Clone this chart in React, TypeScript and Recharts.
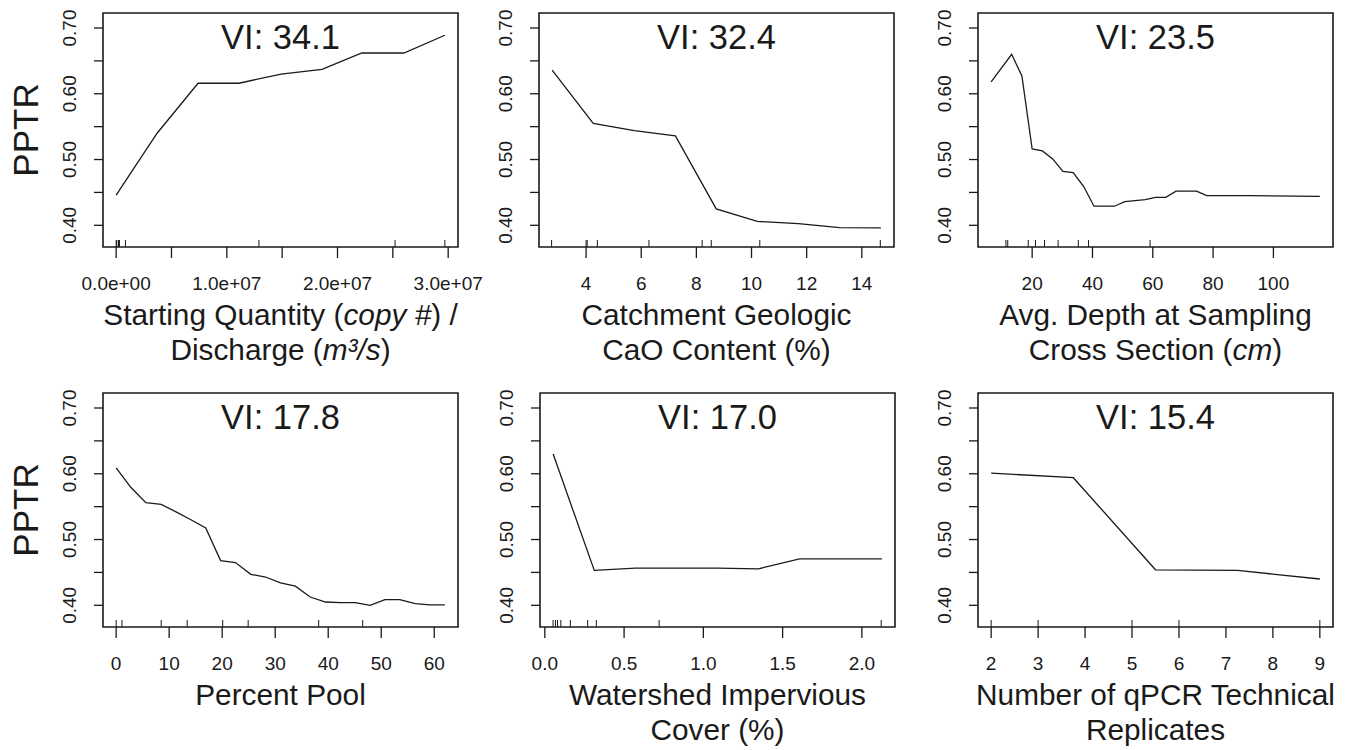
import { ComposedChart, Line, Scatter, XAxis, YAxis, ReferenceArea } from 'recharts';

const FONT = '"Liberation Sans", Arial, Helvetica, sans-serif';
const INK = '#1a1a1a';

// ─── shared y axis (PPTR) ───
const yTicks = [0.4, 0.45, 0.5, 0.55, 0.6, 0.65, 0.7];
const yLabeled = [0.4, 0.5, 0.6, 0.7];
const yDomain = [0.367, 0.7228];

// ─── panel 1: starting quantity / discharge ───
const qtyX = [0, 3.7e6, 7.4e6, 1.11e7, 1.49e7, 1.86e7, 2.22e7, 2.6e7, 2.97e7];
const qtyY = [0.446, 0.54, 0.616, 0.616, 0.63, 0.637, 0.662, 0.662, 0.689];
const qtyRug = [0, 6e4, 2.1e5, 3e5, 8.4e5, 1.29e7, 2.52e7, 2.97e7];
const qtyTicks = [0, 5e6, 1e7, 1.5e7, 2e7, 2.5e7, 3e7];
const qtyLabeled = [0, 1e7, 2e7, 3e7];

// ─── panel 2: CaO ───
const caoX = [2.77, 4.26, 5.75, 7.24, 8.72, 10.21, 11.7, 13.19, 14.69];
const caoY = [0.636, 0.555, 0.544, 0.536, 0.425, 0.406, 0.4025, 0.3965, 0.396];
const caoRug = [2.75, 4.0, 4.04, 4.41, 6.28, 8.21, 8.54, 10.3, 14.67];
const caoTicks = [4, 6, 8, 10, 12, 14];

// ─── panel 3: depth ───
const depthX = [6.4, 13.2, 16.6, 20.0, 23.4, 26.8, 30.2, 33.6, 37.1, 40.5, 43.9, 47.3, 50.7, 54.1, 57.5, 60.9, 64.3, 67.7, 71.1, 74.5, 77.9, 91.5, 115.4];
const depthY = [0.618, 0.66, 0.627, 0.516, 0.513, 0.501, 0.482, 0.48, 0.459, 0.429, 0.429, 0.429, 0.436, 0.4375, 0.439, 0.4425, 0.4425, 0.452, 0.452, 0.452, 0.445, 0.445, 0.444];
const depthRug = [11.3, 11.9, 18.7, 21.1, 24.1, 28.6, 35.3, 38.7, 59.1];
const depthTicks = [20, 40, 60, 80, 100];

// ─── panel 4: percent pool ───
const poolX = [0, 2.8, 5.6, 8.5, 11.3, 14.1, 16.9, 19.7, 22.5, 25.4, 28.2, 31.0, 33.8, 36.6, 39.5, 42.3, 45.1, 47.9, 50.7, 53.5, 56.4, 59.2, 62.0];
const poolY = [0.609, 0.579, 0.556, 0.5535, 0.542, 0.53, 0.5175, 0.468, 0.465, 0.447, 0.443, 0.434, 0.429, 0.4126, 0.405, 0.404, 0.404, 0.4, 0.4086, 0.4086, 0.4025, 0.4005, 0.4005];
const poolRug = [0, 1.1, 8.5, 13.4, 20.1, 24.9, 38.2, 46.5];
const poolTicks = [0, 10, 20, 30, 40, 50, 60];

// ─── panel 5: impervious cover ───
const imperviousX = [0.0525, 0.312, 0.571, 0.83, 1.089, 1.348, 1.607, 1.867, 2.126];
const imperviousY = [0.63, 0.453, 0.4565, 0.4565, 0.4565, 0.4555, 0.4706, 0.4706, 0.4706];
const imperviousRug = [0.052, 0.067, 0.08, 0.101, 0.161, 0.27, 0.325, 0.721, 2.122];
const imperviousTicks = [0, 0.5, 1, 1.5, 2];

// ─── panel 6: qPCR replicates ───
const repX = [2, 3.75, 5.5, 7.25, 9];
const repY = [0.601, 0.594, 0.454, 0.453, 0.44];
const repRug = [2, 3, 5, 6, 9];
const repTicks = [2, 3, 4, 5, 6, 7, 8, 9];

const sci = (v: number) => {
  const [m, e] = v.toExponential(1).split('e');
  return `${m}e${e[0]}${e.slice(1).padStart(2, '0')}`;
};

const has = (list: number[], v: number) =>
  list.some((t) => Math.abs(t - v) <= 1e-9 * Math.max(1, Math.abs(t)));

const XTick = ({ x, y, payload, labeled, fmt }: any) => {
  if (labeled && !has(labeled, payload.value)) return <g />;
  return (
    <text x={x} y={y + 32} textAnchor="middle" fontSize={19} fontFamily={FONT} fill={INK}>
      {fmt(payload.value)}
    </text>
  );
};

const YTick = ({ x, y, payload }: any) => {
  if (!has(yLabeled, payload.value)) return <g />;
  const bx = x - 18.3;
  return (
    <text
      x={bx}
      y={y}
      transform={`rotate(-90 ${bx} ${y})`}
      textAnchor="middle"
      fontSize={19}
      fontFamily={FONT}
      fill={INK}
    >
      {payload.value.toFixed(2)}
    </text>
  );
};

const RugMark = (p: any) => (
  <line x1={p.cx} x2={p.cx} y1={p.cy} y2={p.cy - 7} stroke={INK} strokeWidth={1} />
);

type Seg = { t: string; i?: boolean };

const PanelText = ({ viewBox, title, xLabel, showY }: any) => {
  const vb = viewBox && viewBox.width ? viewBox : { x: 103, y: 13, width: 355, height: 234 };
  const cx = vb.x + vb.width / 2;
  const bottom = vb.y + vb.height;
  const my = vb.y + vb.height / 2;
  return (
    <g>
      <text x={cx} y={vb.y + 36} textAnchor="middle" fontSize={34.5} fontFamily={FONT} fill={INK}>
        {title}
      </text>
      {xLabel.map((line: Seg[], i: number) => (
        <text
          key={i}
          x={cx}
          y={bottom + 78 + i * 35}
          textAnchor="middle"
          fontSize={29.8}
          fontFamily={FONT}
          fill={INK}
        >
          {line.map((s, j) => (
            <tspan key={j} fontStyle={s.i ? 'italic' : 'normal'}>
              {s.t}
            </tspan>
          ))}
        </text>
      ))}
      {showY && (
        <text
          x={37.5}
          y={my}
          transform={`rotate(-90 37.5 ${my})`}
          textAnchor="middle"
          fontSize={35}
          fontFamily={FONT}
          fill={INK}
        >
          PPTR
        </text>
      )}
    </g>
  );
};

const panels = [
  {
    title: 'VI: 34.1',
    xs: qtyX, ys: qtyY, rug: qtyRug, ticks: qtyTicks, labeled: qtyLabeled, fmt: sci,
    xLabel: [
      [{ t: 'Starting Quantity (' }, { t: 'copy #', i: true }, { t: ') /' }],
      [{ t: 'Discharge (' }, { t: 'm³/s', i: true }, { t: ')' }],
    ],
    left: 0, top: 0, showY: true,
  },
  {
    title: 'VI: 32.4',
    xs: caoX, ys: caoY, rug: caoRug, ticks: caoTicks, labeled: null, fmt: (v: number) => String(v),
    xLabel: [[{ t: 'Catchment Geologic' }], [{ t: 'CaO Content (%)' }]],
    left: 436, top: 0, showY: false,
  },
  {
    title: 'VI: 23.5',
    xs: depthX, ys: depthY, rug: depthRug, ticks: depthTicks, labeled: null, fmt: (v: number) => String(v),
    xLabel: [[{ t: 'Avg. Depth at Sampling' }], [{ t: 'Cross Section (' }, { t: 'cm', i: true }, { t: ')' }]],
    left: 875, top: 0, showY: false,
  },
  {
    title: 'VI: 17.8',
    xs: poolX, ys: poolY, rug: poolRug, ticks: poolTicks, labeled: null, fmt: (v: number) => String(v),
    xLabel: [[{ t: 'Percent Pool' }]],
    left: 0, top: 380, showY: true,
  },
  {
    title: 'VI: 17.0',
    xs: imperviousX, ys: imperviousY, rug: imperviousRug, ticks: imperviousTicks, labeled: null,
    fmt: (v: number) => v.toFixed(1),
    xLabel: [[{ t: 'Watershed Impervious' }], [{ t: 'Cover (%)' }]],
    left: 437, top: 380, showY: false,
  },
  {
    title: 'VI: 15.4',
    xs: repX, ys: repY, rug: repRug, ticks: repTicks, labeled: null, fmt: (v: number) => String(v),
    xLabel: [[{ t: 'Number of qPCR Technical' }], [{ t: 'Replicates' }]],
    left: 875, top: 380, showY: false,
  },
];

// R-style 4% padding around the data range
const padRange = (xs: number[]) => {
  const lo = Math.min(...xs);
  const hi = Math.max(...xs);
  const d = (hi - lo) * 0.04;
  return [lo - d, hi + d];
};

function Panel({ p }: any) {
  const line = p.xs.map((x: number, i: number) => ({ x, y: p.ys[i] }));
  const rug = p.rug.map((x: number) => ({ x, y: yDomain[0] }));
  const xDomain = padRange(p.xs);
  return (
    <div style={{ position: 'absolute', left: p.left, top: p.top }}>
      <ComposedChart width={503} height={370} margin={{ top: 13, right: 45, bottom: 0, left: 0 }}>
        <XAxis
          dataKey="x"
          type="number"
          domain={xDomain}
          allowDataOverflow
          ticks={p.ticks}
          interval={0}
          height={123}
          axisLine={false}
          tickSize={11}
          tickMargin={0}
          tickLine={{ stroke: INK, strokeWidth: 1.3 }}
          tick={<XTick labeled={p.labeled} fmt={p.fmt} />}
        />
        <YAxis
          type="number"
          domain={yDomain}
          allowDataOverflow
          ticks={yTicks}
          interval={0}
          width={103}
          axisLine={false}
          tickSize={9}
          tickMargin={0}
          tickLine={{ stroke: INK, strokeWidth: 1.3 }}
          tick={<YTick />}
        />
        <ReferenceArea
          x1={xDomain[0]}
          x2={xDomain[1]}
          y1={yDomain[0]}
          y2={yDomain[1]}
          fill="none"
          fillOpacity={0}
          stroke={INK}
          strokeWidth={1.6}
          ifOverflow="visible"
          label={(lp: any) => (
            <PanelText viewBox={lp.viewBox} title={p.title} xLabel={p.xLabel} showY={p.showY} />
          )}
        />
        <Scatter data={rug} dataKey="y" shape={<RugMark />} isAnimationActive={false} />
        <Line
          data={line}
          dataKey="y"
          type="linear"
          stroke={INK}
          strokeWidth={1.3}
          dot={false}
          activeDot={false}
          isAnimationActive={false}
        />
      </ComposedChart>
    </div>
  );
}

export default function App() {
  return (
    <div
      style={{
        position: 'absolute',
        left: 0,
        top: 0,
        width: 1348,
        height: 750,
        background: '#fff',
        fontFamily: FONT,
        overflow: 'hidden',
      }}
    >
      {panels.map((p, i) => (
        <Panel key={i} p={p} />
      ))}
    </div>
  );
}
